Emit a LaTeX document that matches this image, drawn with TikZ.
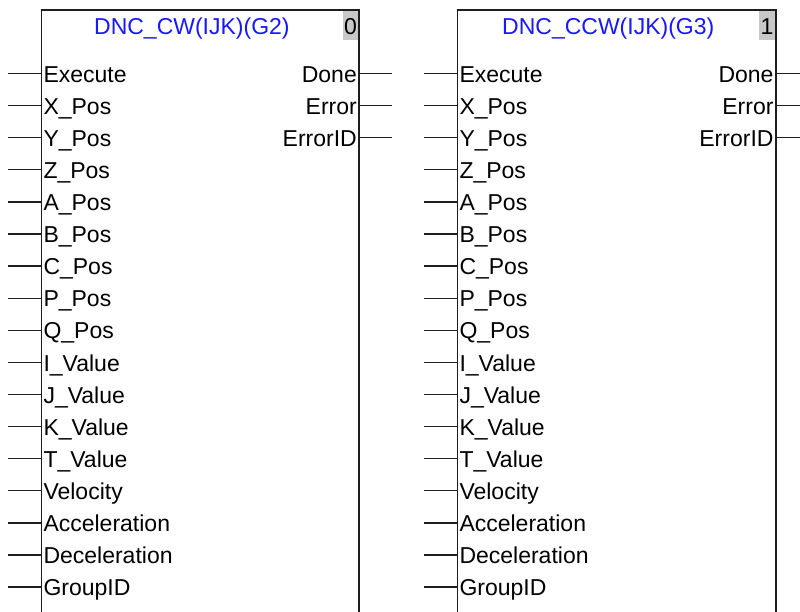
\documentclass[tikz,border=0pt]{standalone}
\usepackage{fontspec}
\setmainfont{Liberation Sans}
\begin{document}
\begin{tikzpicture}[x=1pt,y=-1pt,
  pinfont/.style={font=\fontsize{23}{26}\selectfont},
  inlabel/.style={pinfont,anchor=base west,inner sep=0pt},
  outlabel/.style={pinfont,anchor=base east,inner sep=0pt},
  titlelabel/.style={pinfont,anchor=base,inner sep=0pt,text={rgb,255:red,24;green,24;blue,255}},
  idbox/.style={fill={rgb,255:red,200;green,200;blue,200},draw=none},
  blockline/.style={line width=1.6pt,draw={rgb,255:red,30;green,30;blue,30}},
  stub/.style={line width=1.3pt,draw={rgb,255:red,30;green,30;blue,30}}]
\useasboundingbox (0,0) rectangle (800,612);
\fill[white] (0,0) rectangle (800,612);

\newcommand\fblock[5]{%
  % #1 prefix, #2 left x, #3 right x, #4 title, #5 id
  \fill[idbox] (#3-16.5,10) rectangle (#3,40);
  \node[pinfont,anchor=base east,inner sep=0pt] (#1id) at (#3-2,35) {#5};
  \node[titlelabel] (#1title) at ({(#2+#3-16.5)/2},35) {#4};
  \draw[blockline] (#2,620) -- (#2,10) -- (#3,10) -- (#3,620);
  \foreach \nm [count=\i] in {Execute,X\_Pos,Y\_Pos,Z\_Pos,A\_Pos,B\_Pos,C\_Pos,P\_Pos,Q\_Pos,I\_Value,J\_Value,K\_Value,T\_Value,Velocity,Acceleration,Deceleration,GroupID}{
    \pgfmathsetmacro\yy{73.5+32.1*(\i-1)}
    \coordinate (#1pin\i) at (#2,\yy);
    \coordinate (#1src\i) at (#2-33,\yy);
    \node[inlabel] (#1lab\i) at (#2+2,\yy+8.6) {\nm};
    \draw[stub] (#1src\i) -- (#1pin\i);
  }
  \foreach \nm [count=\i] in {Done,Error,ErrorID}{
    \pgfmathsetmacro\yy{73.5+32.1*(\i-1)}
    \coordinate (#1opin\i) at (#3,\yy);
    \coordinate (#1dst\i) at (#3+33,\yy);
    \node[outlabel] (#1olab\i) at (#3-2,\yy+8.6) {\nm};
    \draw[stub] (#1opin\i) -- (#1dst\i);
  }
}
\fblock{a}{41.3}{359}{DNC\_CW(IJK)(G2)}{0}
\fblock{b}{457.3}{775.7}{DNC\_CCW(IJK)(G3)}{1}
\end{tikzpicture}
\end{document}
